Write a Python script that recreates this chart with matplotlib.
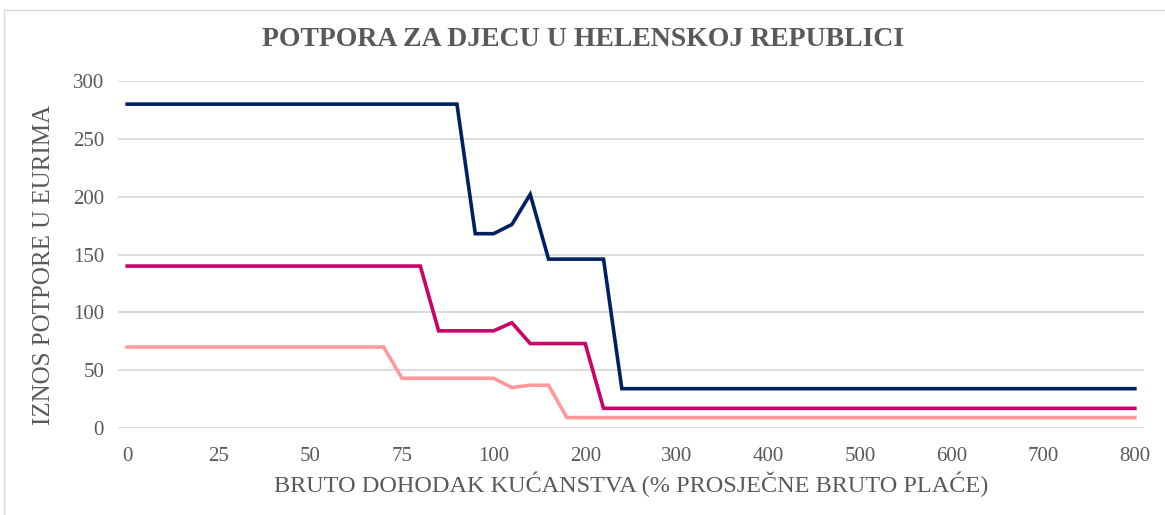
import matplotlib.pyplot as plt
from matplotlib.patches import Rectangle

# household gross income, % of average gross wage (categorical axis)
income = [0, 5, 10, 15, 20, 25, 30, 35, 40, 45, 50, 55, 60, 65, 70, 75, 80, 85, 90, 95, 100,
          120, 140, 160, 180, 200, 220, 240, 260, 280, 300, 320, 340, 360, 380, 400,
          420, 440, 460, 480, 500, 520, 540, 560, 580, 600, 620, 640, 660, 680, 700,
          720, 740, 760, 780, 800]

navy = [280, 280, 280, 280, 280, 280, 280, 280, 280, 280, 280, 280, 280, 280, 280, 280, 280, 280, 280,
        168, 168, 176, 202, 146, 146, 146, 146,
        34, 34, 34, 34, 34, 34, 34, 34, 34, 34, 34, 34, 34, 34, 34, 34, 34, 34, 34, 34,
        34, 34, 34, 34, 34, 34, 34, 34, 34]
magenta = [140, 140, 140, 140, 140, 140, 140, 140, 140, 140, 140, 140, 140, 140, 140, 140, 140,
           84, 84, 84, 84, 91, 73, 73, 73, 73,
           17, 17, 17, 17, 17, 17, 17, 17, 17, 17, 17, 17, 17, 17, 17, 17, 17, 17, 17, 17,
           17, 17, 17, 17, 17, 17, 17, 17, 17, 17]
pink = [70, 70, 70, 70, 70, 70, 70, 70, 70, 70, 70, 70, 70, 70, 70,
        43, 43, 43, 43, 43, 43, 35, 37, 37,
        9, 9, 9, 9, 9, 9, 9, 9, 9, 9, 9, 9, 9, 9, 9, 9, 9, 9, 9, 9,
        9, 9, 9, 9, 9, 9, 9, 9, 9, 9, 9, 9]

tick_labels = ["0", "25", "50", "75", "100", "200", "300", "400", "500", "600", "700", "800"]

plt.rcParams["font.family"] = ["Liberation Serif", "DejaVu Serif"]
grey = "#595959"

fig = plt.figure(figsize=(11.65, 5.15), dpi=100)
fig.patches.append(Rectangle((4 / 1165, -0.1), 1.2, 1.1 - 10 / 515, transform=fig.transFigure,
                             fill=False, edgecolor="#d9d9d9", linewidth=1.0))
ax = fig.add_axes([118 / 1165, 87 / 515, (1144 - 118) / 1165, (428 - 81) / 515])

x = list(range(len(income)))
ax.plot(x, navy, color="#002060", linewidth=2.6, solid_joinstyle="miter")
ax.plot(x, magenta, color="#cc0066", linewidth=2.6, solid_joinstyle="miter")
ax.plot(x, pink, color="#ff9999", linewidth=2.6, solid_joinstyle="miter")

ax.set_xlim(-0.5, len(income) - 0.5)
ax.set_ylim(0, 300)
ax.set_yticks(range(0, 301, 50))
ticks = [i for i, v in enumerate(income) if str(v) in tick_labels]
ax.set_xticks(ticks)
ax.set_xticklabels(tick_labels)
ax.grid(axis="y", color="#d9d9d9", linewidth=1.3)
ax.set_axisbelow(True)
for s in ax.spines.values():
    s.set_visible(False)
ax.tick_params(axis="x", length=0, labelsize=15, colors=grey, pad=14)
ax.tick_params(axis="y", length=0, labelsize=15, colors=grey, pad=10)

ax.set_xlabel("BRUTO DOHODAK KUĆANSTVA (% PROSJEČNE BRUTO PLAĆE)", fontsize=17.5, color=grey, labelpad=4)
ax.set_ylabel("IZNOS POTPORE U EURIMA", fontsize=18, color=grey)
ax.yaxis.set_label_coords(-0.0614, 0.47)
fig.text(0.5, 1 - 40 / 515, "POTPORA ZA DJECU U HELENSKOJ REPUBLICI", ha="center", va="center",
         fontsize=20, fontweight="bold", color=grey)

fig.savefig("out.png", dpi=100)
